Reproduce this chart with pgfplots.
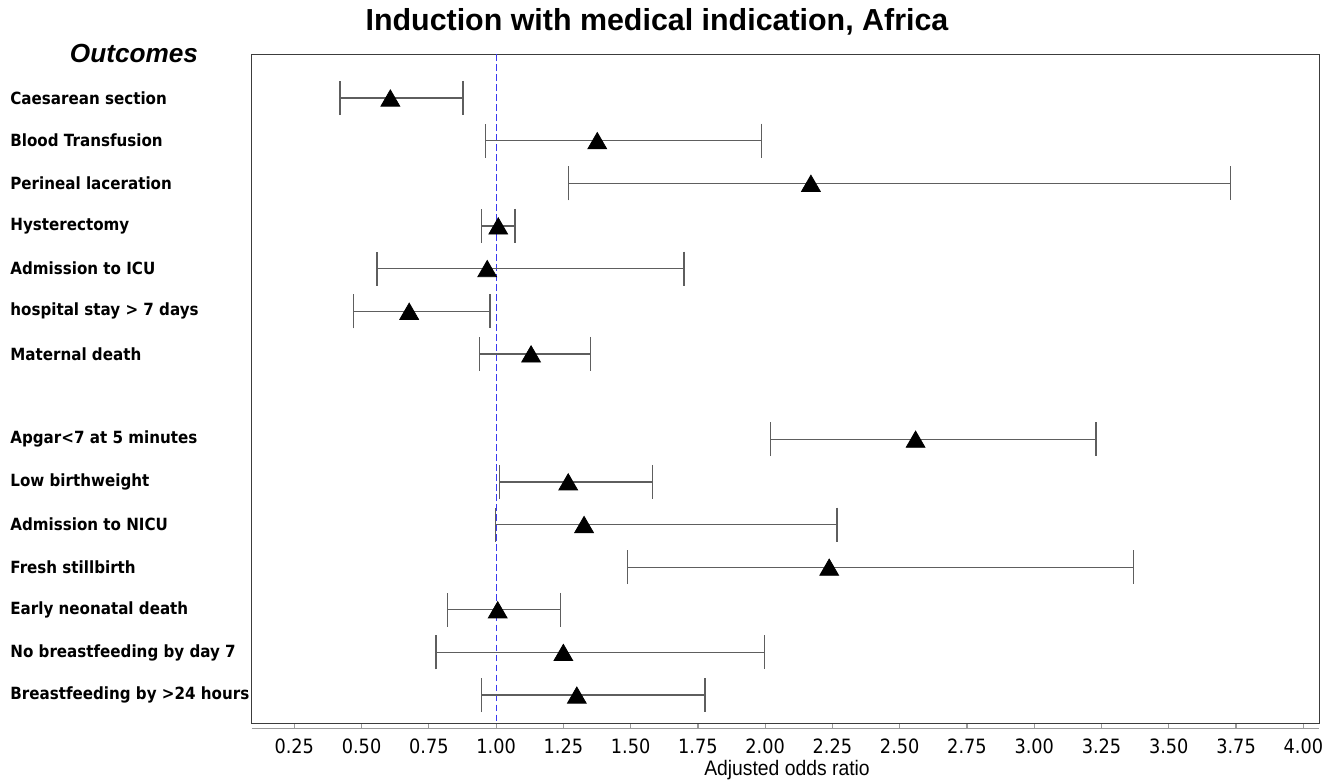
\documentclass[border=0pt]{standalone}
\usepackage{pgfplots}
\pgfplotsset{compat=1.18}
\usepackage{pgfplotstable}
\usepackage{fontspec}
\setmainfont{Liberation Sans}
\newfontfamily\tah[FakeStretch=0.9]{DejaVu Sans}
\newfontfamily\narrowf[FakeStretch=0.92]{Liberation Sans}
\definecolor{boxcol}{HTML}{3C3C3C}
\definecolor{barcol}{HTML}{5E5E5E}
\definecolor{axcol}{HTML}{9A9A9A}
\definecolor{refblue}{HTML}{3A3AF0}

\pgfplotstableread{
row lo or hi
-1 0.420 0.607 0.877
-2 0.961 1.376 1.987
-3 1.268 2.170 3.730
-4 0.946 1.008 1.070
-5 0.557 0.967 1.698
-6 0.469 0.677 0.977
-7 0.938 1.130 1.350
-9 2.020 2.559 3.229
-10 1.012 1.268 1.580
-11 0.997 1.327 2.267
-12 1.488 2.238 3.368
-13 0.819 1.006 1.240
-14 0.777 1.250 1.997
-15 0.946 1.300 1.776
}\data

\begin{document}
\begin{tikzpicture}
\path[use as bounding box] (-125.85pt,-29.35pt) rectangle (543.65pt,361.65pt);
\begin{axis}[
  at={(0,0)}, anchor=south west, scale only axis,
  width=533.8pt, height=334.4pt,
  xmin=0.0917, xmax=4.0594, ymin=-15.661, ymax=0.020,
  axis line style={boxcol, line width=0.75pt},
  xtick=\empty,
  ytick={-1,-2,-3,-4,-5,-6,-7,-9,-10,-11,-12,-13,-14,-15},
  yticklabels={Caesarean section, Blood Transfusion, Perineal laceration, Hysterectomy, Admission to ICU, hospital stay > 7 days, Maternal death, Apgar<7 at 5 minutes, Low birthweight, Admission to NICU, Fresh stillbirth, Early neonatal death, No breastfeeding by day 7, Breastfeeding by >24 hours},
  ytick style={draw=none},
  yticklabel style={anchor=west, inner sep=0pt, xshift=-120.85pt, font=\tah\bfseries\fontsize{8.4}{10}\selectfont},
  title={Induction with medical indication, Africa},
  title style={at={(axis description cs:0.3796,1.0172)}, anchor=base, inner sep=0pt, font=\bfseries\fontsize{15.2}{18}\selectfont},
  clip=false,
]
\addplot[refblue, line width=0.5pt, dash pattern=on 3.3pt off 1.7pt] coordinates {(1,0.020) (1,-15.661)};
\addplot[only marks, mark=triangle*, mark size=5.4pt,
  mark options={black, fill=black, yshift=-1.35pt},
  error bars/.cd, x dir=both, x explicit,
  error bar style={barcol, line width=0.65pt},
  error mark options={barcol, line width=0.65pt, mark size=8.5pt, rotate=90}]
  table[x=or, y=row, x error plus expr=\thisrow{hi}-\thisrow{or}, x error minus expr=\thisrow{or}-\thisrow{lo}] {\data};
\end{axis}
\begin{axis}[
  at={(0,-2.5pt)}, anchor=south west, scale only axis,
  width=533.8pt, height=20pt,
  xmin=0.0917, xmax=4.0594, ymin=0, ymax=1,
  axis x line*=bottom, axis y line=none,
  x axis line style={axcol, line width=0.6pt},
  xtick={0.25,0.5,0.75,1,1.25,1.5,1.75,2,2.25,2.5,2.75,3,3.25,3.5,3.75,4},
  xticklabels={0.25,0.50,0.75,1.00,1.25,1.50,1.75,2.00,2.25,2.50,2.75,3.00,3.25,3.50,3.75,4.00},
  tick align=inside, major tick length=2.2pt,
  xtick style={axcol, line width=0.6pt},
  xticklabel style={anchor=base, inner sep=0pt, yshift=-12.35pt, font=\tah\fontsize{9.85}{11}\selectfont},
  ytick=\empty,
  xlabel={Adjusted odds ratio},
  xlabel style={at={(axis description cs:0.5014,-1.1675)}, anchor=base, inner sep=0pt, font=\narrowf\fontsize{10.5}{12}\selectfont},
]
\end{axis}
\node[anchor=base, font=\bfseries\itshape\fontsize{13.1}{15}\selectfont, inner sep=0pt] at (-58.85pt,330.15pt) {Outcomes};
\end{tikzpicture}
\end{document}
